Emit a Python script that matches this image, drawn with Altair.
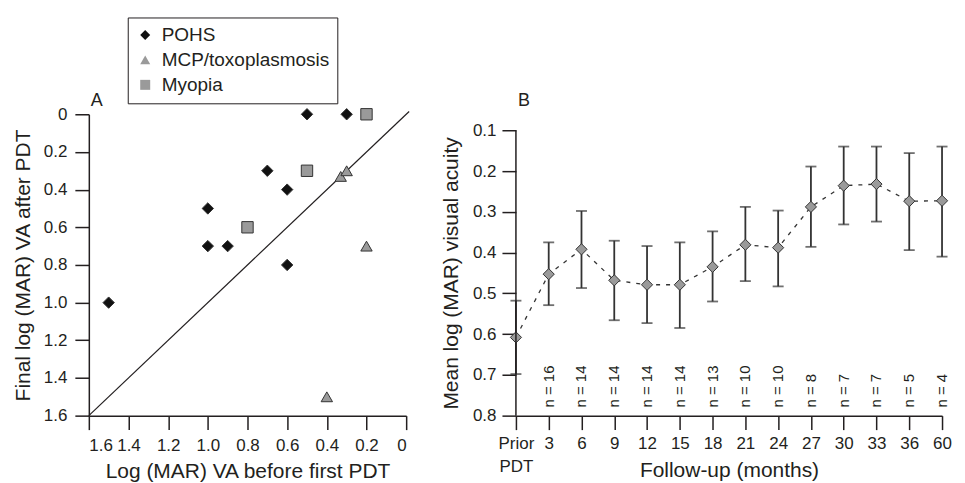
import altair as alt
import pandas as pd

FONT = "Liberation Sans"
INK = "#231f20"

# ---------------- Panel A data ----------------
groups = ["POHS", "MCP/toxoplasmosis", "Myopia"]
pohs_before = [1.5, 1.0, 1.0, 0.9, 0.7, 0.6, 0.6, 0.5, 0.3]
pohs_after = [1.0, 0.5, 0.7, 0.7, 0.3, 0.4, 0.8, 0.0, 0.0]
mcp_before = [0.33, 0.3, 0.2, 0.4]
mcp_after = [0.33, 0.3, 0.7, 1.5]
myopia_before = [0.2, 0.5, 0.8]
myopia_after = [0.0, 0.3, 0.6]
a_ticks = [1.6, 1.4, 1.2, 1.0, 0.8, 0.6, 0.4, 0.2, 0.0]
diag_line = [1.6, -0.015]

# ---------------- Panel B data ----------------
months = ["Prior PDT", "3", "6", "9", "12", "15", "18", "21", "24", "27", "30", "33", "36", "60"]
mean_va = [0.608, 0.453, 0.392, 0.468, 0.479, 0.479, 0.435, 0.381, 0.388, 0.288, 0.236, 0.232, 0.274, 0.273]
upper_va = [0.518, 0.375, 0.298, 0.371, 0.384, 0.375, 0.348, 0.288, 0.297, 0.189, 0.140, 0.140, 0.156, 0.140]
lower_va = [0.698, 0.529, 0.487, 0.566, 0.573, 0.585, 0.520, 0.470, 0.483, 0.386, 0.331, 0.324, 0.394, 0.410]
n_eyes = [0, 16, 14, 14, 14, 14, 13, 10, 10, 8, 7, 7, 5, 4]
b_ticks = [0.1, 0.2, 0.3, 0.4, 0.5, 0.6, 0.7, 0.8]
b_axis_span = [0.1, 0.8]
n_label_pos = 0.78

# ---------------- Panel A ----------------
dfA = pd.DataFrame({
    "before": pohs_before + mcp_before + myopia_before,
    "after": pohs_after + mcp_after + myopia_after,
    "group": [groups[0]] * len(pohs_before) + [groups[1]] * len(mcp_before) + [groups[2]] * len(myopia_before),
})
dfDiag = pd.DataFrame({"before": diag_line, "after": diag_line})

xA = alt.X("before:Q",
           scale=alt.Scale(domain=[0, 1.6], reverse=True, nice=False, zero=False),
           axis=alt.Axis(values=a_ticks, title="Log (MAR) VA before first PDT",
                         labelExpr="datum.value == 0 ? '0' : format(datum.value, '.1f')",
                         tickSize=14, labelPadding=8, titleY=62, titleBaseline="alphabetic",
                         grid=False))
yA = alt.Y("after:Q",
           scale=alt.Scale(domain=[0, 1.6], reverse=True, nice=False, zero=False),
           axis=alt.Axis(values=a_ticks, title="Final log (MAR) VA after PDT",
                         labelExpr="datum.value == 0 ? '0' : format(datum.value, '.1f')",
                         tickSize=14, labelPadding=8, titleX=-59, titleBaseline="alphabetic",
                         grid=False))

diag = alt.Chart(dfDiag).mark_line(color=INK, strokeWidth=1.2).encode(x=xA, y=yA)

pts = alt.Chart(dfA).mark_point(filled=True, opacity=1, stroke="#333333", strokeWidth=1, size=130).encode(
    x=xA, y=yA,
    shape=alt.Shape("group:N", title="",
                    scale=alt.Scale(domain=groups, range=["diamond", "triangle-up", "square"]),
                    legend=alt.Legend(orient="none", legendX=39, legendY=-97, direction="vertical",
                                      padding=8, strokeColor=INK, labelFont=FONT, labelFontSize=19,
                                      labelColor=INK, labelLimit=400, symbolSize=100, labelOffset=7,
                                      rowPadding=5, symbolStrokeColor="#333333", symbolStrokeWidth=1)),
    fill=alt.Fill("group:N", title="",
                  scale=alt.Scale(domain=groups, range=["#111111", "#9a9a9a", "#9a9a9a"])),
)

labA = alt.Chart(pd.DataFrame({"t": ["A"]})).mark_text(
    align="left", baseline="alphabetic", font=FONT, fontSize=18, color=INK
).encode(text="t:N", x=alt.value(2), y=alt.value(-8))

panelA = alt.layer(diag, pts, labA).properties(width=318, height=302)

# ---------------- Panel B ----------------
dfB = pd.DataFrame({
    "label": months, "mean": mean_va, "upper": upper_va, "lower": lower_va,
    "nlab": ["" if v == 0 else f"n = {v}" for v in n_eyes],
})

xB = alt.X("label:O", sort=months,
           scale=alt.Scale(type="point", padding=0),
           axis=alt.Axis(labelAngle=0, labelOverlap=False,
                         labelExpr="datum.value == 'Prior PDT' ? ['Prior', 'PDT'] : datum.value",
                         labelLineHeight=23, tickSize=14, labelPadding=6,
                         title="Follow-up (months)", titleY=61, titleBaseline="alphabetic"))
yscaleB = alt.Scale(domain=[0.0608, 0.8], reverse=True, nice=False, zero=False)
yaxisB = alt.Axis(values=b_ticks, format=".1f", domain=False, tickSize=14, labelPadding=6,
                  title="Mean log (MAR) visual acuity", titleX=-59, titleY=159,
                  titleBaseline="alphabetic", grid=False)
yB = alt.Y("mean:Q", scale=yscaleB, axis=yaxisB)

baseB = alt.Chart(dfB)

axis_rule = alt.Chart(pd.DataFrame({"v0": [b_axis_span[0]], "v1": [b_axis_span[1]]})).mark_rule(
    color=INK, strokeWidth=1.5).encode(x=alt.value(0), y=alt.Y("v0:Q", scale=yscaleB, axis=yaxisB), y2="v1:Q")

err = baseB.mark_rule(color="#333333", strokeWidth=1.8).encode(
    x=xB, y=alt.Y("upper:Q", scale=yscaleB, axis=yaxisB), y2="lower:Q")
cap_top = baseB.mark_tick(orient="horizontal", size=11, thickness=1.8, color="#333333").encode(
    x=xB, y=alt.Y("upper:Q", scale=yscaleB, axis=yaxisB))
cap_bot = baseB.mark_tick(orient="horizontal", size=11, thickness=1.8, color="#333333").encode(
    x=xB, y=alt.Y("lower:Q", scale=yscaleB, axis=yaxisB))
line = baseB.mark_line(color="#333333", strokeWidth=1.3, strokeDash=[4, 6]).encode(x=xB, y=yB)
diamonds = baseB.mark_point(shape="diamond", filled=True, size=125, fill="#9a9a9a",
                            stroke="#333333", strokeWidth=1, opacity=1).encode(x=xB, y=yB)
ntext = baseB.transform_filter("datum.nlab != ''").mark_text(
    angle=270, align="left", baseline="middle", font=FONT, fontSize=15, color=INK
).encode(x=xB, y=alt.Y(datum=n_label_pos, scale=yscaleB, axis=yaxisB), text="nlab:N")

labB = alt.Chart(pd.DataFrame({"t": ["B"]})).mark_text(
    align="left", baseline="alphabetic", font=FONT, fontSize=18, color=INK
).encode(text="t:N", x=alt.value(2), y=alt.value(-8))

panelB = alt.layer(line, err, cap_top, cap_bot, diamonds, ntext, axis_rule, labB).properties(width=427, height=302)

chart = alt.hconcat(panelA, panelB, spacing=28).properties(
    padding={"left": 5, "top": 8, "right": 5, "bottom": 0}
).configure_axis(
    labelFont=FONT, titleFont=FONT, labelFontSize=17, titleFontSize=21,
    labelColor=INK, titleColor=INK, domainColor=INK, tickColor=INK,
    domainWidth=1.5, tickWidth=1.5, titleFontWeight="normal", grid=False
).configure_view(strokeWidth=0)

chart.save("out.html", embed_options={"renderer": "svg", "actions": False})
